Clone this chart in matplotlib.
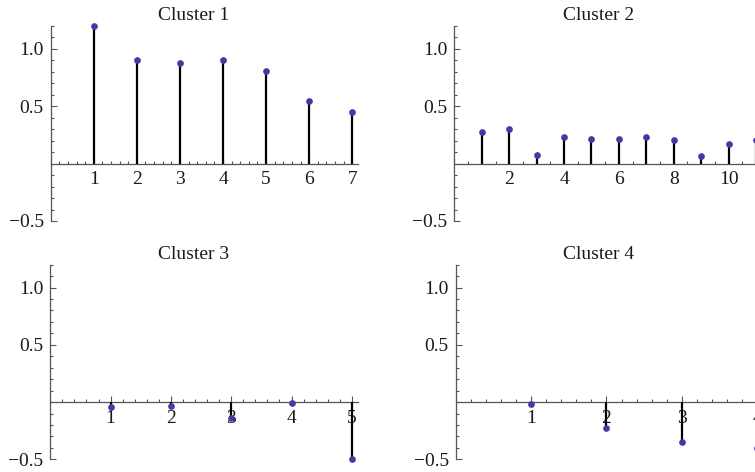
import matplotlib
matplotlib.use("Agg")
import matplotlib.pyplot as plt
from matplotlib.ticker import MultipleLocator, FixedLocator, FuncFormatter

plt.rcParams['font.family'] = ['Liberation Serif', 'DejaVu Serif']

titles = ["Cluster 1", "Cluster 2", "Cluster 3", "Cluster 4"]
cluster1 = [1.20, 0.905, 0.879, 0.905, 0.809, 0.547, 0.451]
cluster2 = [0.274, 0.300, 0.079, 0.230, 0.216, 0.216, 0.230, 0.204, 0.065, 0.175, 0.204]
cluster3 = [-0.046, -0.035, -0.14, -0.005, -0.50]
cluster4 = [-0.015, -0.227, -0.349, -0.40]
series = [cluster1, cluster2, cluster3, cluster4]
x_major_steps = [1, 2, 1, 1]
x_minor_steps = [0.2, 0.5, 0.2, 0.2]
y_ticks = [-0.5, 0.5, 1.0]

W, H = 755, 472
fig = plt.figure(figsize=(W / 100, H / 100), dpi=100)

positions = [
    [50.7 / W, 1 - 221 / H, 307.6 / W, 195 / H],
    [454.4 / W, 1 - 221 / H, 307.6 / W, 195 / H],
    [50.3 / W, 1 - 459.3 / H, 307.6 / W, 194.6 / H],
    [455.7 / W, 1 - 459.3 / H, 307.6 / W, 194.6 / H],
]
title_pos = [(194, 20), (599, 20), (194, 259.3), (599, 259.3)]

axis_col = '#555555'
dot_col = '#4636a6'


def fmt(v, pos):
    s = f"{v:.1f}"
    return s.replace('-', '\u2212')


for i, vals in enumerate(series):
    ax = fig.add_axes(positions[i])
    n = len(vals)
    xs = list(range(1, n + 1))
    ax.set_xlim(0, n * 1.02)
    ax.set_ylim(-0.5, 1.2)
    ax.vlines(xs, 0, vals, colors='black', linewidth=1.6, zorder=3, clip_on=False)
    ax.plot(xs, vals, 'o', color=dot_col, markersize=3.8, zorder=4, clip_on=False)
    ax.patch.set_visible(False)
    for s in ['top', 'right']:
        ax.spines[s].set_visible(False)
    ax.spines['left'].set_position(('data', 0))
    ax.spines['bottom'].set_position(('data', 0))
    for s in ['left', 'bottom']:
        ax.spines[s].set_color(axis_col)
        ax.spines[s].set_linewidth(0.9)
    ax.xaxis.set_major_locator(MultipleLocator(x_major_steps[i]))
    ax.xaxis.set_minor_locator(MultipleLocator(x_minor_steps[i]))
    ax.yaxis.set_major_locator(FixedLocator(y_ticks))
    ax.yaxis.set_minor_locator(MultipleLocator(0.1))
    ax.xaxis.set_major_formatter(FuncFormatter(lambda v, p: f"{int(round(v))}" if v > 0 else ""))
    ax.yaxis.set_major_formatter(FuncFormatter(fmt))
    ax.tick_params(axis='both', which='both', direction='in', colors=axis_col,
                   labelcolor='#1a1a1a', labelsize=14, width=0.8)
    ax.tick_params(axis='both', which='major', length=4)
    ax.tick_params(axis='both', which='minor', length=2.2)
    ax.tick_params(axis='x', which='major', pad=5.5)
    ax.tick_params(axis='y', which='major', pad=5)
    tx, ty = title_pos[i]
    fig.text(tx / W, 1 - ty / H, titles[i], ha='center', va='baseline', fontsize=14, color='#1a1a1a')

fig.savefig('out.png', dpi=100)
